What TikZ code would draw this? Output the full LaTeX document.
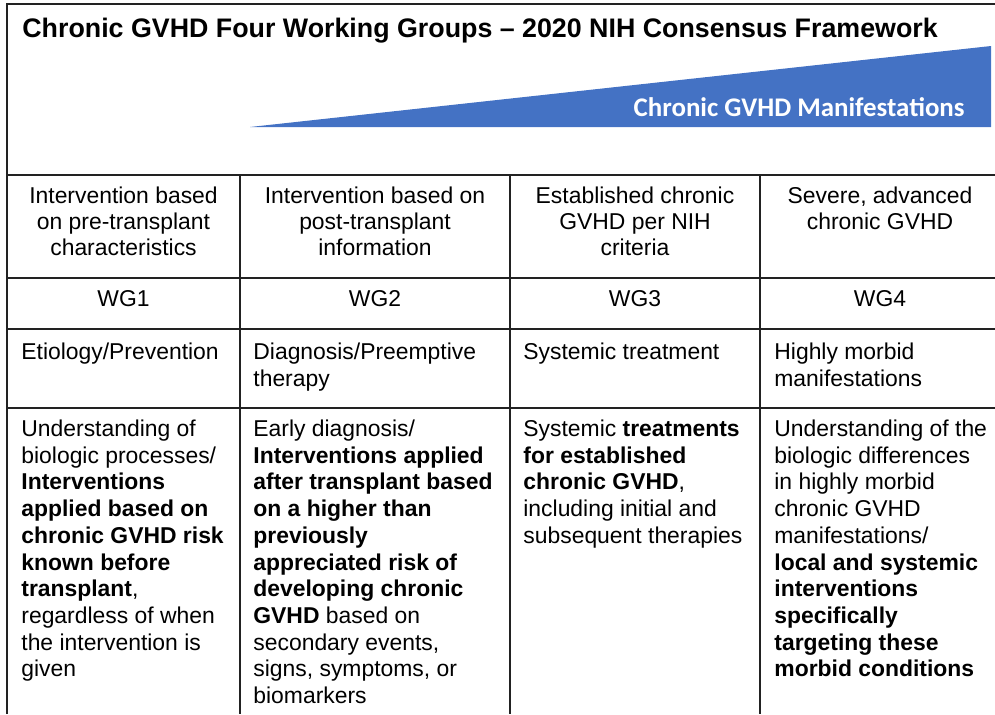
\documentclass[tikz,border=0pt]{standalone}
\usepackage{fontspec}
\setmainfont{Liberation Sans}
\newfontfamily\wedgefont{Carlito}
\definecolor{wedgeblue}{HTML}{4472C4}
\definecolor{ruleline}{HTML}{222222}

\begin{document}
\begin{tikzpicture}[x=0.5pt, y=-0.5pt, font=\fontsize{11.45}{13.35}\selectfont,
    tableline/.style={ruleline, line width=0.75pt},
    cell/.style={inner sep=0pt, align=left, anchor=north west},
    headcell/.style={inner sep=0pt, align=center, anchor=north, font=\fontsize{11.45}{13}\selectfont}]
    \useasboundingbox (0,0) rectangle (995,714);

    % Title
    \node[anchor=base west, inner sep=0pt, font=\bfseries\fontsize{13.4}{16}\selectfont] (title) at (22,37)
        {Chronic GVHD Four Working Groups – 2020 NIH Consensus Framework};

    % Rising wedge for the manifestations
    \coordinate (WedgeTip) at (250,127);
    \coordinate (WedgeTop) at (991,46);
    \coordinate (WedgeCorner) at (991,127);
    \fill[wedgeblue] (WedgeTip) -- (WedgeTop) -- (WedgeCorner) -- cycle;
    \node[anchor=base east, inner sep=0pt, white, font=\wedgefont\bfseries\fontsize{13.45}{16}\selectfont] (wedgelabel) at (965,116)
        {Chronic GVHD Manifestations};

    % Frame and table grid
    \draw[tableline] (7,714) -- (7,4) -- (995,4);
    \foreach \y in {175, 278, 329, 408} {
        \draw[tableline] (7,\y) -- (995,\y);
    }
    \foreach \x in {240, 510, 760} {
        \draw[tableline] (\x,175) -- (\x,714);
    }

    % Row 1: stage of intervention (tops sit one cap height above the first baseline)
    \node[headcell] (stageA) at (123.5,186.5) {Intervention based\\on pre-transplant\\characteristics};
    \node[headcell] (stageB) at (375,186.5) {Intervention based on\\post-transplant\\information};
    \node[headcell] (stageC) at (635,186.5) {Established chronic\\GVHD per NIH\\criteria};
    \node[headcell] (stageD) at (880,186.5) {Severe, advanced\\chronic GVHD};

    % Row 2: working groups
    \node[headcell] (wgA) at (123.5,290.5) {WG1};
    \node[headcell] (wgB) at (375,290.5) {WG2};
    \node[headcell] (wgC) at (635,290.5) {WG3};
    \node[headcell] (wgD) at (880,290.5) {WG4};

    % Row 3: focus
    \node[cell] (focusA) at (21,342.5) {Etiology/Prevention};
    \node[cell] (focusB) at (253,342.5) {Diagnosis/Preemptive\\therapy};
    \node[cell] (focusC) at (523,342.5) {Systemic treatment};
    \node[cell] (focusD) at (774,342.5) {Highly morbid\\manifestations};

    % Row 4: scope of each group
    \node[cell] (scopeA) at (21,419.5) {Understanding of\\biologic processes/\\\textbf{Interventions}\\\textbf{applied based on}\\\textbf{chronic GVHD risk}\\\textbf{known before}\\\textbf{transplant},\\regardless of when\\the intervention is\\given};
    \node[cell] (scopeB) at (253,419.5) {Early diagnosis/\\\textbf{Interventions applied}\\\textbf{after transplant based}\\\textbf{on a higher than}\\\textbf{previously}\\\textbf{appreciated risk of}\\\textbf{developing chronic}\\\textbf{GVHD} based on\\secondary events,\\signs, symptoms, or\\biomarkers};
    \node[cell] (scopeC) at (523,419.5) {Systemic \textbf{treatments}\\\textbf{for established}\\\textbf{chronic GVHD},\\including initial and\\subsequent therapies};
    \node[cell] (scopeD) at (774,419.5) {Understanding of the\\biologic differences\\in highly morbid\\chronic GVHD\\manifestations/\\\textbf{local and systemic}\\\textbf{interventions}\\\textbf{specifically}\\\textbf{targeting these}\\\textbf{morbid conditions}};

\end{tikzpicture}
\end{document}
